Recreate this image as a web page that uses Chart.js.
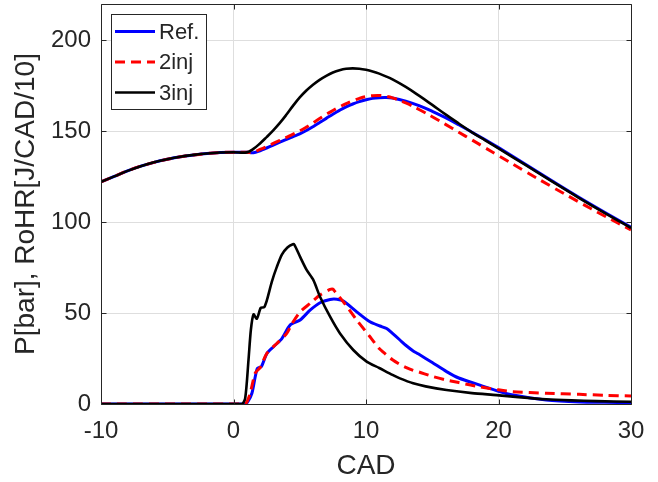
<!DOCTYPE html>
<html>
<head>
<meta charset="utf-8">
<script src="https://cdn.jsdelivr.net/npm/chart.js@4/dist/chart.umd.min.js"></script>
<style>
  html, body { margin: 0; padding: 0; background: #fff; }
  #wrap { width: 658px; height: 482px; position: relative; }
</style>
</head>
<body>
<div id="wrap"><canvas id="c"></canvas></div>
<script>
// ---- Data ----
const seriesNames = ['Ref.', '2inj', '3inj'];
const xTicks = [-10, 0, 10, 20, 30];
const yTicks = [0, 50, 100, 150, 200];

// motored (common) pressure before combustion
const motoredX = [-10, -9, -8, -7, -6, -5, -4, -3, -2, -1, 0, 1];
const motoredP = [122.2, 125.2, 128.2, 130.8, 132.9, 134.6, 136.0, 137.0, 137.8, 138.3, 138.5, 138.4];

// cylinder pressure [bar]
const refPX = [1.5, 2, 2.5, 3, 3.5, 4, 4.5, 5, 5.5, 6, 6.5, 7, 7.5, 8, 8.5, 9, 9.5, 10, 10.5, 11, 11.5, 12, 13, 14, 15, 16, 17, 18, 19, 20, 22, 24, 26, 28, 30];
const refP  = [138.2, 139.3, 140.8, 142.4, 144.0, 145.6, 147.1, 148.6, 150.4, 152.5, 154.8, 157.1, 159.4, 161.5, 163.4, 165.0, 166.3, 167.3, 168.1, 168.5, 168.6, 168.3, 166.6, 164.1, 161.0, 157.5, 153.6, 149.5, 145.3, 141.0, 132.0, 122.9, 114.0, 105.5, 97.2];

const inj2PX = [1.5, 2, 2.5, 3, 3.5, 4, 4.5, 5, 5.5, 6, 6.5, 7, 7.5, 8, 8.5, 9, 9.5, 10, 10.5, 11, 11.5, 12, 13, 14, 15, 16, 17, 18, 19, 20, 22, 24, 26, 28, 30];
const inj2P  = [138.5, 140.0, 141.6, 143.3, 145.0, 146.7, 148.4, 150.2, 152.3, 154.6, 157.0, 159.3, 161.4, 163.4, 165.2, 166.8, 168.1, 169.1, 169.6, 169.7, 169.3, 168.4, 165.6, 162.0, 158.0, 153.8, 149.5, 145.2, 140.9, 136.6, 128.0, 119.6, 111.4, 103.4, 95.8];

const inj3PX = [1.5, 2, 2.5, 3, 3.5, 4, 4.5, 5, 5.5, 6, 6.5, 7, 7.5, 8, 8.5, 9, 9.5, 10, 10.5, 11, 11.5, 12, 13, 14, 15, 16, 17, 18, 19, 20, 22, 24, 26, 28, 30];
const inj3P  = [140.3, 143.3, 146.8, 150.5, 154.6, 159.2, 164.1, 168.6, 172.4, 175.6, 178.3, 180.5, 182.3, 183.6, 184.4, 184.6, 184.4, 183.8, 182.9, 181.7, 180.2, 178.5, 174.4, 169.6, 164.5, 159.3, 154.3, 149.4, 145.0, 140.6, 131.6, 122.6, 113.7, 105.1, 96.8];

// rate of heat release [J/CAD/10]
const refRX = [-10, 0.9, 1.1, 1.39, 1.64, 1.81, 2.1, 2.52, 3.02, 3.65, 4.27, 5.03, 5.78, 6.53, 7.29, 7.8, 8.29, 9.3, 10.3, 11.05, 11.56, 12, 12.56, 13, 13.56, 13.94, 15, 16.08, 17, 18.6, 20, 21.1, 23.6, 26.1, 28, 30];
const refR  = [0, 0, 1.5, 5.9, 15.0, 19.6, 20.5, 27.8, 31.5, 36.0, 43.4, 46.2, 51.6, 55.7, 57.5, 57.6, 56.6, 50.7, 45.2, 42.9, 41.5, 38.8, 35.2, 32.3, 29.2, 27.6, 22.8, 17.8, 14.3, 10.4, 7.0, 4.9, 2.2, 1.1, 0.9, 0.8];

const inj2RX = [-10, 0.8, 1.0, 1.26, 1.64, 2.01, 2.52, 3.27, 4.02, 4.4, 5.03, 5.78, 6.53, 7.29, 7.5, 7.67, 8.29, 9.3, 10.3, 11, 11.5, 12, 12.5, 13, 13.56, 14, 15, 16, 17, 18.6, 20, 21.1, 23.6, 26.1, 28, 30];
const inj2R  = [0, 0, 1.0, 5.9, 17.0, 20.0, 27.8, 33.3, 38.8, 44.0, 50.7, 55.3, 59.9, 63.0, 63.2, 61.7, 56.2, 46.2, 37.0, 30.5, 27.3, 24.3, 22.0, 20.2, 18.5, 17.6, 15.2, 13.3, 11.8, 9.4, 7.8, 6.8, 5.9, 5.3, 4.8, 4.4];

const inj3RX = [-10, 0.6, 0.88, 1.13, 1.31, 1.51, 1.76, 2.06, 2.31, 2.52, 2.89, 3.27, 3.65, 4.07, 4.48, 4.6, 5.03, 5.53, 6.03, 6.53, 7.29, 8.04, 9.04, 10.05, 11, 12, 12.56, 13.56, 14.5, 16.08, 18, 19.85, 21.5, 23.6, 25.5, 27.4, 30];
const inj3R  = [0, 0, 3.0, 24.0, 40.7, 49.3, 46.9, 52.9, 53.2, 57.1, 67.2, 75.4, 82.2, 86.1, 87.9, 87.5, 80.9, 73.6, 68.1, 59.0, 48.0, 38.8, 29.7, 23.3, 19.8, 16.0, 14.1, 11.4, 9.7, 7.7, 6.0, 4.9, 3.8, 2.6, 2.0, 1.6, 1.2];

// ---- helpers ----
function zip(xs, ys) { return xs.map((x, i) => ({ x: x, y: ys[i] })); }
const COLORS = ['#0000ff', '#ff0000', '#000000'];
const DASHES = [[], [10, 6], []];
const WIDTHS = [3, 3, 2.6];
const TXT = '#262626';
const FONT = '"Liberation Sans", Arial, Helvetica, sans-serif';

function ds(i, data, tension) {
  return {
    label: seriesNames[i],
    data: data,
    borderColor: COLORS[i],
    backgroundColor: COLORS[i],
    borderWidth: WIDTHS[i],
    borderDash: DASHES[i],
    pointRadius: 0,
    fill: false,
    tension: tension,
    order: 2 - i
  };
}

const datasets = [
  ds(0, zip(motoredX.concat(refPX), motoredP.concat(refP)), 0.4),
  ds(1, zip(motoredX.concat(inj2PX), motoredP.concat(inj2P)), 0.4),
  ds(2, zip(motoredX.concat(inj3PX), motoredP.concat(inj3P)), 0.4),
  ds(0, zip(refRX, refR), 0.25),
  ds(1, zip(inj2RX, inj2R), 0.25),
  ds(2, zip(inj3RX, inj3R), 0.25)
];

// box, inward ticks, and legend drawn like MATLAB
const matlabDecor = {
  id: 'matlabDecor',
  afterDatasetsDraw(chart) {
    const ctx = chart.ctx;
    const a = chart.chartArea;
    const xs = chart.scales.x, ys = chart.scales.y;
    const L = Math.round(a.left) + 0.5, R = Math.round(a.right) + 0.5;
    const T = Math.round(a.top) + 0.5, B = Math.round(a.bottom) + 0.5;
    ctx.save();
    ctx.strokeStyle = TXT;
    ctx.lineWidth = 1;
    ctx.setLineDash([]);
    ctx.beginPath();
    ctx.rect(L, T, R - L, B - T);
    const tl = 5;
    xTicks.forEach(v => {
      const px = Math.round(xs.getPixelForValue(v)) + 0.5;
      ctx.moveTo(px, B); ctx.lineTo(px, B - tl);
      ctx.moveTo(px, T); ctx.lineTo(px, T + tl);
    });
    yTicks.forEach(v => {
      const py = Math.round(ys.getPixelForValue(v)) + 0.5;
      ctx.moveTo(L, py); ctx.lineTo(L + tl, py);
      ctx.moveTo(R, py); ctx.lineTo(R - tl, py);
    });
    ctx.stroke();

    // legend
    const lx = 111.5, ly = 14.5, lw = 95, lh = 95;
    ctx.fillStyle = '#ffffff';
    ctx.fillRect(lx, ly, lw, lh);
    ctx.strokeStyle = TXT;
    ctx.lineWidth = 1;
    ctx.strokeRect(lx, ly, lw, lh);
    const rows = [31.5, 62, 92.5];
    ctx.font = '22px ' + FONT;
    ctx.textBaseline = 'middle';
    ctx.textAlign = 'left';
    seriesNames.forEach((n, i) => {
      ctx.beginPath();
      ctx.strokeStyle = COLORS[i];
      ctx.lineWidth = WIDTHS[i];
      ctx.setLineDash(DASHES[i]);
      ctx.moveTo(115, rows[i]);
      ctx.lineTo(155, rows[i]);
      ctx.stroke();
      ctx.setLineDash([]);
      ctx.fillStyle = TXT;
      ctx.fillText(n, 159, rows[i] + 1);
    });
    ctx.restore();
  }
};

new Chart(document.getElementById('c'), {
  type: 'line',
  data: { datasets: datasets },
  plugins: [matlabDecor],
  options: {
    responsive: true,
    maintainAspectRatio: false,
    animation: false,
    events: [],
    layout: { padding: { left: 0, right: 27, top: 4, bottom: 0 } },
    plugins: { legend: { display: false }, tooltip: { enabled: false } },
    scales: {
      x: {
        type: 'linear', min: -10, max: 30,
        afterFit(s) { s.height = 78; s.paddingLeft = 0; s.paddingRight = 0; },
        afterBuildTicks(s) { s.ticks = xTicks.map(v => ({ value: v })); },
        ticks: { color: TXT, font: { family: FONT, size: 24 }, padding: 13, maxRotation: 0 },
        grid: { color: '#dedede', lineWidth: 1, drawTicks: false },
        border: { display: false },
        title: { display: true, text: 'CAD', color: TXT, font: { family: FONT, size: 28, lineHeight: 1 }, padding: { top: 0, bottom: 2 } }
      },
      y: {
        type: 'linear', min: 0, max: 220,
        afterFit(s) { s.width = 101; s.paddingTop = 0; s.paddingBottom = 0; },
        afterBuildTicks(s) { s.ticks = yTicks.map(v => ({ value: v })); },
        ticks: { color: TXT, font: { family: FONT, size: 24 }, padding: 10 },
        grid: { color: '#dedede', lineWidth: 1, drawTicks: false },
        border: { display: false },
        title: { display: true, text: 'P[bar], RoHR[J/CAD/10]', color: TXT, font: { family: FONT, size: 28, lineHeight: 1 }, padding: { top: 12, bottom: 0 } }
      }
    }
  }
});
</script>
</body>
</html>
